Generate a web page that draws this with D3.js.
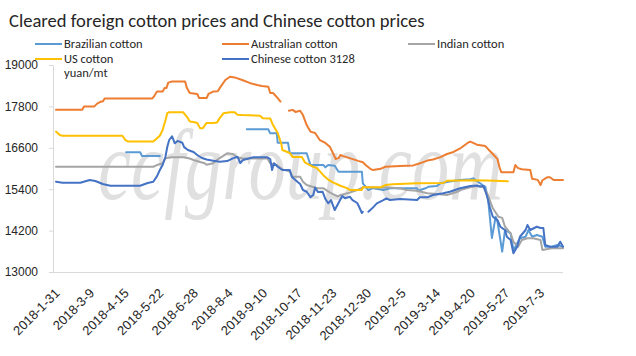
<!DOCTYPE html>
<html>
<head>
<meta charset="utf-8">
<script src="https://cdn.jsdelivr.net/npm/d3@7"></script>
<style>
  html, body { margin: 0; padding: 0; background: #fff; }
  svg { display: block; font-family: Carlito, Lato, "Open Sans", sans-serif; }
</style>
</head>
<body>
<svg id="chart" width="636" height="356"></svg>
<script>
// ---- Data (x = days since 2018-1-31, y = yuan/mt) ----
const title = "Cleared foreign cotton prices and Chinese cotton prices";
const unitLabel = "yuan/mt";
const startDay = "2018-1-31";
const lastDay = 542;
const yTicks = [13000, 14200, 15400, 16600, 17800, 19000];
const xTickLabels = ["2018-1-31","2018-3-9","2018-4-15","2018-5-22","2018-6-28","2018-8-4","2018-9-10","2018-10-17","2018-11-23","2018-12-30","2019-2-5","2019-3-14","2019-4-20","2019-5-27","2019-7-3"];
const seriesNames = ["Brazilian cotton","Australian cotton","Indian cotton","US cotton","Chinese cotton 3128"];

const brazilian = [
  [[75,16470],[90,16470],[92,16360],[111,16360]],
  [[204,17136],[227,17136],[229,17020],[236,17020],[237,16747],[248,16747],[250,16440],[268,16440],[272,16100],[286,16100],[288,16034],[291,16100],[298,16080],[302,15907],[327,15907],[328,15571],[334,15376],[339,15430],[350,15376],[357,15426],[386,15426],[387,15356],[395,15426],[398,15470],[407,15490],[411,15571],[421,15620],[432,15666],[443,15690],[446,15715],[456,15521],[459,15470],[462,15086],[466,13985],[470,14602],[472,14450],[477,13588],[480,14217],[486,14121],[489,13637],[491,13730],[496,13976],[502,14022],[505,14217],[509,14022],[514,14072],[520,14022],[523,13733],[530,13733],[536,13782],[542,13733]]
];
const australian = [
  [[0,17700],[28,17700],[30,17800],[41,17800],[44,17880],[48,17940],[50,17940],[52,18030],[103,18030],[105,18100],[108,18230],[114,18230],[116,18330],[118,18330],[120,18490],[124,18520],[138,18520],[140,18330],[143,18190],[151,18160],[153,18040],[161,18040],[163,18160],[168,18230],[173,18240],[175,18330],[181,18565],[186,18660],[191,18640],[199,18565],[207,18480],[215,18420],[220,18390],[227,18370],[229,18190],[232,18190],[234,18130],[237,18040],[240,17940]],
  [[249,17675],[253,17700],[256,17640],[261,17675],[264,17550],[268,17260],[272,17070],[277,17030],[282,16825],[288,16740],[293,16620],[296,16450],[299,16275],[302,16300],[304,16390],[307,16360],[314,16300],[323,16220],[328,16180],[331,16100],[336,15990],[339,15955],[347,15990],[352,16050],[368,16070],[382,16090],[389,16150],[397,16230],[403,16260],[411,16330],[418,16420],[425,16480],[432,16580],[440,16740],[443,16780],[450,16690],[459,16650],[462,16560],[466,16450],[472,16270],[474,16050],[476,15890],[489,15890],[491,16100],[494,16010],[498,15980],[507,15960],[509,15700],[515,15670],[518,15520],[520,15660],[525,15745],[528,15745],[532,15665],[542,15665]]
];
const indian = [
  [[0,16050],[104,16050],[108,16100],[114,16150],[117,16295],[124,16325],[136,16325],[143,16290],[147,16245],[154,16190],[159,16150],[161,16110],[168,16150],[172,16246],[175,16300],[183,16440],[189,16420],[194,16320],[199,16295],[226,16290],[229,16150],[236,16100],[242,15975],[250,15910],[253,15762],[261,15762],[264,15617],[268,15521],[274,15472],[279,15426],[286,15426],[293,15300],[301,15190],[304,15231],[314,15300],[322,15376],[328,15455],[336,15455],[347,15440],[354,15455],[368,15420],[375,15376],[386,15356],[397,15281],[407,15260],[418,15231],[429,15327],[435,15400],[443,15455],[450,15492],[457,15455],[461,15280],[467,14846],[473,14602],[477,14570],[480,14312],[486,14121],[489,13877],[494,13733],[498,13927],[504,13976],[510,13976],[518,13927],[520,13637],[530,13686],[542,13686]]
];
const us = [
  [[0,17070],[4,16970],[7,16950],[71,16950],[74,16830],[77,16780],[104,16780],[108,16880],[111,16950],[114,17115],[117,17400],[119,17605],[121,17630],[136,17630],[138,17560],[141,17460],[143,17360],[147,17350],[151,17320],[154,17170],[157,17170],[161,17320],[168,17320],[172,17330],[175,17460],[179,17600],[186,17630],[191,17630],[194,17560],[199,17550],[218,17530],[221,17460],[229,17450],[232,17260],[237,17030],[241,16700],[242,16535],[250,16450],[253,16330],[263,16330],[266,16180],[275,16050],[279,16010],[286,15800],[291,15680],[296,15600],[304,15500],[311,15430],[314,15380],[327,15380],[328,15455],[347,15455],[352,15520],[360,15540],[386,15570],[414,15580],[418,15645],[446,15660],[461,15650],[483,15630]]
];
const chinese = [
  [[0,15617],[7,15588],[26,15588],[36,15666],[42,15637],[50,15550],[58,15501],[90,15501],[98,15580],[104,15617],[108,15780],[111,15956],[114,16101],[117,16342],[119,16632],[121,16826],[124,16935],[127,16730],[130,16800],[135,16747],[137,16620],[141,16536],[147,16480],[151,16391],[156,16304],[161,16260],[168,16226],[175,16197],[183,16215],[189,16295],[194,16342],[197,16159],[200,16246],[211,16324],[226,16324],[229,16275],[231,15956],[233,16150],[237,16052],[242,15956],[250,15956],[252,15762],[258,15617],[261,15550],[264,15376],[268,15327],[272,15170],[275,15231],[277,15450],[280,15320],[285,15327],[288,15115],[291,14991],[294,15086],[298,14796],[302,15000],[306,15202],[309,15140],[314,15182],[317,15086],[322,15000],[324,14892],[327,14710],[328,14747]],
  [[334,14747],[338,14846],[343,14991],[350,15086],[353,15136],[357,15086],[368,15115],[386,15086],[389,15165],[397,15165],[403,15231],[414,15281],[421,15327],[432,15426],[443,15492],[450,15505],[453,15480],[457,15492],[461,15182],[464,14855],[467,14602],[472,14505],[475,14312],[480,14217],[482,14022],[486,13927],[489,13541],[493,13733],[496,14022],[502,14217],[504,14362],[507,14217],[514,14312],[518,14275],[521,14275],[523,13782],[528,13733],[536,13733],[539,13877],[542,13733]]
];
const watermark = "ccfgroup.com";

// ---- Drawing ----
const colors = { "Brazilian cotton": "#5B9BD5", "Australian cotton": "#ED7D31", "Indian cotton": "#A5A5A5", "US cotton": "#FFC000", "Chinese cotton 3128": "#4472C4" };
const dataByName = { "Brazilian cotton": brazilian, "Australian cotton": australian, "Indian cotton": indian, "US cotton": us, "Chinese cotton 3128": chinese };

const parse = d3.timeParse("%Y-%m-%d");
const t0 = parse(startDay);
const svg = d3.select("#chart");
const textColor = "#262626";

const x = d3.scaleTime().domain([t0, d3.timeDay.offset(t0, lastDay)]).range([56, 563]);
const y = d3.scaleLinear().domain([13000, 19000]).range([272, 65]);
const xd = d => x(d3.timeDay.offset(t0, d));

// watermark (horizontally condensed serif italic)
const wm = svg.append("text")
  .attr("font-family", "'Liberation Serif', 'DejaVu Serif', serif")
  .attr("font-style", "italic")
  .attr("font-size", 100)
  .attr("fill", "#e0e0e0")
  .text(watermark);
const wmW = wm.node().getComputedTextLength() || 530;
wm.attr("transform", `translate(98,199) scale(${405 / wmW},1)`);

// title
svg.append("text").attr("x", 9).attr("y", 27)
  .attr("font-size", 18.6).attr("fill", textColor).text(title);

// y axis
const yAxis = d3.axisLeft(y).tickValues(yTicks).tickSizeInner(4).tickSizeOuter(0).tickPadding(11).tickFormat(d3.format("d"));
const gy = svg.append("g").attr("transform", "translate(53,0)").call(yAxis);
gy.select(".domain").attr("stroke", "#d9d9d9");
gy.selectAll(".tick line").attr("stroke", "#d9d9d9");
gy.selectAll(".tick text").attr("font-size", 12).attr("fill", textColor).attr("font-family", null);

// x axis
const xTickDates = xTickLabels.map(parse);
const xAxis = d3.axisBottom(x).tickValues(xTickDates).tickSize(0).tickFormat((d, i) => xTickLabels[i]);
const gx = svg.append("g").attr("transform", "translate(0,272)").call(xAxis);
gx.select(".domain").attr("stroke", "#d9d9d9").attr("d", "M53,0.5H563");
gx.selectAll(".tick text")
  .attr("font-size", 13).attr("fill", textColor).attr("font-family", null)
  .attr("text-anchor", "end").attr("y", 0).attr("dy", 0)
  .attr("transform", "translate(4,22) rotate(-45)");

// lines
const line = d3.line().x(d => xd(d[0])).y(d => y(d[1]));
const drawOrder = ["Brazilian cotton","Australian cotton","Indian cotton","US cotton","Chinese cotton 3128"];
drawOrder.forEach(name => {
  svg.append("g").selectAll("path").data(dataByName[name]).join("path")
    .attr("d", line).attr("fill", "none").attr("stroke", colors[name])
    .attr("stroke-width", 2).attr("stroke-linejoin", "round").attr("stroke-linecap", "round");
});

// legend
const legendPos = [[35, 44], [222, 44], [408, 44], [35, 59], [222, 59]];
const lg = svg.append("g");
seriesNames.forEach((name, i) => {
  const [lx, ly] = legendPos[i];
  lg.append("line").attr("x1", lx).attr("x2", lx + 27).attr("y1", ly).attr("y2", ly)
    .attr("stroke", colors[name]).attr("stroke-width", 2);
  lg.append("text").attr("x", lx + 29).attr("y", ly).attr("dy", "0.35em")
    .attr("font-size", 12.5).attr("fill", textColor).text(name);
});
svg.append("text").attr("x", 64).attr("y", 77).attr("font-size", 12.5).attr("fill", textColor).text(unitLabel);
</script>
</body>
</html>
